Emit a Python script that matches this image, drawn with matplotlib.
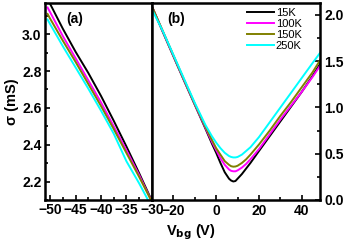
import matplotlib
matplotlib.use("Agg")
import matplotlib.pyplot as plt
from matplotlib.ticker import MultipleLocator

plt.rcParams['font.family'] = ['Liberation Sans', 'DejaVu Sans']
plt.rcParams['font.weight'] = 'bold'

# datos: Vbg (V) y sigma (mS) para cada temperatura
labels = ["15K", "100K", "150K", "250K"]
colores = ["black", "#ff00ff", "#808000", "#00ffff"]

vbg = [-50.5, -50, -47.5, -45, -42.5, -40, -37.5, -35, -32.5, -30,
       -25, -20, -15, -10, -5, -2, 0, 2, 4, 6, 7, 8, 9, 10, 12, 14, 16,
       20, 25, 30, 35, 40, 45, 48.5]

sig_15K = [3.19, 3.165, 3.03, 2.905, 2.79, 2.665, 2.53, 2.39, 2.245, 2.095,
           1.82, 1.555, 1.29, 1.03, 0.77, 0.61, 0.51, 0.40, 0.30, 0.23, 0.21, 0.20, 0.205, 0.23, 0.28, 0.34, 0.40,
           0.53, 0.69, 0.85, 1.01, 1.17, 1.34, 1.47]
sig_100K = [3.145, 3.12, 2.99, 2.87, 2.75, 2.63, 2.50, 2.37, 2.235, 2.09,
            1.825, 1.56, 1.295, 1.035, 0.78, 0.63, 0.54, 0.45, 0.38, 0.33, 0.315, 0.31, 0.31, 0.32, 0.35, 0.39, 0.44,
            0.55, 0.71, 0.87, 1.02, 1.17, 1.33, 1.45]
sig_150K = [3.11, 3.085, 2.965, 2.85, 2.73, 2.61, 2.485, 2.355, 2.225, 2.09,
            1.83, 1.565, 1.30, 1.04, 0.79, 0.65, 0.56, 0.49, 0.42, 0.38, 0.365, 0.36, 0.362, 0.37, 0.40, 0.44, 0.49,
            0.60, 0.75, 0.91, 1.06, 1.22, 1.38, 1.51]
sig_250K = [3.08, 3.055, 2.935, 2.82, 2.705, 2.585, 2.46, 2.31, 2.19, 2.06,
            1.83, 1.57, 1.31, 1.05, 0.81, 0.69, 0.62, 0.56, 0.51, 0.475, 0.465, 0.46, 0.46, 0.465, 0.49, 0.53, 0.57,
            0.68, 0.84, 1.00, 1.16, 1.32, 1.48, 1.59]

series = [sig_15K, sig_100K, sig_150K, sig_250K]

fig = plt.figure(figsize=(3.6, 2.43), dpi=100)
ax1 = fig.add_axes([0.125, 0.177, 0.297, 0.811])
ax2 = fig.add_axes([0.422, 0.177, 0.467, 0.811])

for s, c, l in zip(series, colores, labels):
    ax1.plot(vbg, s, color=c, lw=1.4)
    ax2.plot(vbg, s, color=c, lw=1.4, label=l)

# panel (a)
ax1.set_xlim(-51, -30)
ax1.set_ylim(2.1, 3.17)
ax1.set_xticks([-50, -45, -40, -35, -30])
ax1.set_yticks([2.2, 2.4, 2.6, 2.8, 3.0])
ax1.xaxis.set_minor_locator(MultipleLocator(2.5))
ax1.yaxis.set_minor_locator(MultipleLocator(0.1))
ax1.tick_params(which='both', direction='in', top=False, right=False, labelsize=10, width=1.2, pad=2.5)
ax1.tick_params(which='major', length=3.5)
ax1.tick_params(which='minor', length=2)
ax1.set_ylabel("σ (mS)", fontsize=10.5, fontweight='bold', labelpad=2)
ax1.text(0.20, 0.92, "(a)", transform=ax1.transAxes, fontsize=10, fontweight='bold', va='center')

# panel (b)
ax2.set_xlim(-30, 48.5)
ax2.set_ylim(0, 2.13)
ax2.set_xticks([-20, 0, 20, 40])
ax2.set_yticks([0.0, 0.5, 1.0, 1.5, 2.0])
ax2.xaxis.set_minor_locator(MultipleLocator(10))
ax2.yaxis.set_minor_locator(MultipleLocator(0.25))
ax2.yaxis.tick_right()
ax2.tick_params(which='both', direction='in', top=False, left=False, right=True,
                labelleft=False, labelright=True, labelsize=10, width=1.2, pad=3)
ax2.tick_params(which='major', length=3.5)
ax2.tick_params(which='minor', length=2)
ax2.text(0.09, 0.92, "(b)", transform=ax2.transAxes, fontsize=10, fontweight='bold', va='center')

leg = ax2.legend(loc='upper right', bbox_to_anchor=(0.93, 1.01), frameon=False, fontsize=8,
                 handlelength=2.4, handletextpad=0.2, labelspacing=0.1, borderaxespad=0.2)
for t in leg.get_texts():
    t.set_fontweight('normal')

for ax in (ax1, ax2):
    for sp in ax.spines.values():
        sp.set_linewidth(1.8)
    for t in ax.get_xticklabels() + ax.get_yticklabels():
        t.set_fontweight('bold')

fig.text(0.53, 0.03, r"V$_{\mathbf{bg}}$ (V)", ha='center', fontsize=10.5, fontweight='bold')

fig.savefig("out.png", dpi=100)
